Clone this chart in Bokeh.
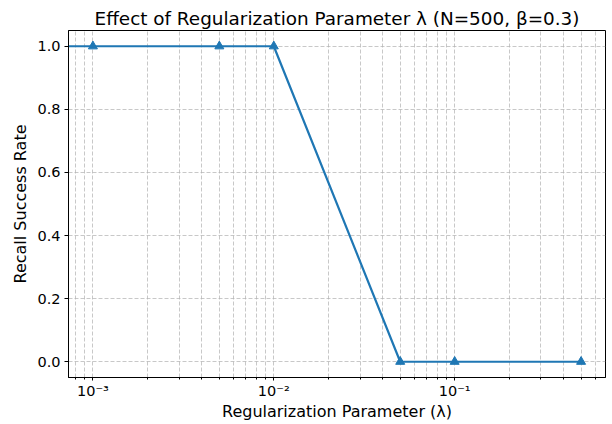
import numpy as np
from bokeh.plotting import figure
from bokeh.models import Range1d, FixedTicker, CustomJSTickFormatter, NumeralTickFormatter
from bokeh.embed import file_html
from bokeh.resources import INLINE

# data
lambdas = [0.0, 0.001, 0.005, 0.01, 0.05, 0.1, 0.5]
recall = [1.0, 1.0, 1.0, 1.0, 0.0, 0.0, 0.0]
y_ticks = [0.0, 0.2, 0.4, 0.6, 0.8, 1.0]
x_major = [1e-3, 1e-2, 1e-1]

title = "Effect of Regularization Parameter λ (N=500, β=0.3)"
xlabel = "Regularization Parameter (λ)"
ylabel = "Recall Success Rate"

lam = np.array(lambdas)
rec = np.array(recall)
pos = lam > 0
# like matplotlib's log-scale clipping of non-positive values
lam_line = np.where(pos, lam, 1e-12)

lo, hi = np.log10(lam[pos].min()), np.log10(lam[pos].max())
m = 0.05 * (hi - lo)
ylo, yhi = rec.min(), rec.max()
ym = 0.05 * (yhi - ylo)

FONT = "DejaVu Sans"
p = figure(width=612, height=424, x_axis_type="log", output_backend="svg", toolbar_location=None,
           x_range=Range1d(10 ** (lo - m), 10 ** (hi + m)), y_range=Range1d(ylo - ym, yhi + ym),
           min_border_left=68, min_border_right=7, min_border_top=30, min_border_bottom=47)

p.title.text = title
p.title.align = "center"
p.title.text_font = FONT
p.title.text_font_size = "18.4px"
p.title.text_font_style = "normal"
p.title.text_color = "black"
p.title.standoff = 3

p.outline_line_color = "black"
p.outline_line_width = 1
p.outline_line_alpha = 1

minor = [k * 10.0 ** e for e in range(-4, 1) for k in range(2, 10)]
p.xaxis.ticker = FixedTicker(ticks=x_major, minor_ticks=minor)
p.xaxis.formatter = CustomJSTickFormatter(code="""
const e = Math.round(Math.log10(tick));
const sup = {'-':'\u207b','0':'\u2070','1':'\u00b9','2':'\u00b2','3':'\u00b3','4':'\u2074','5':'\u2075','6':'\u2076','7':'\u2077','8':'\u2078','9':'\u2079'};
return '10' + String(e).split('').map(c => sup[c]).join('');
""")
p.yaxis.ticker = FixedTicker(ticks=y_ticks)
p.yaxis.formatter = NumeralTickFormatter(format="0.0")

for ax in (p.xaxis, p.yaxis):
    ax.axis_line_color = "black"
    ax.major_tick_line_color = "black"
    ax.minor_tick_line_color = "black"
    ax.major_tick_out = 4
    ax.major_tick_in = 0
    ax.minor_tick_out = 2
    ax.minor_tick_in = 0
    ax.major_label_text_font = FONT
    ax.major_label_text_font_size = "14.5px"
    ax.major_label_text_color = "black"
    ax.axis_label_text_font = FONT
    ax.axis_label_text_font_size = "16px"
    ax.axis_label_text_font_style = "normal"
    ax.axis_label_text_color = "black"
p.yaxis.minor_tick_line_color = None
p.xaxis.axis_label = xlabel
p.yaxis.axis_label = ylabel
p.xaxis.major_tick_out = 3
p.xaxis.major_label_standoff = 2
p.yaxis.major_label_standoff = 4
p.xaxis.axis_label_standoff = 0
p.yaxis.axis_label_standoff = 4

p.xgrid.grid_line_color = "#b0b0b0"
p.xgrid.grid_line_dash = "4 2"
p.xgrid.grid_line_alpha = 0.7
p.xgrid.minor_grid_line_color = "#b0b0b0"
p.xgrid.minor_grid_line_dash = "4 2"
p.xgrid.minor_grid_line_alpha = 0.7
p.ygrid.grid_line_color = "#b0b0b0"
p.ygrid.grid_line_dash = "4 2"
p.ygrid.grid_line_alpha = 0.7

p.line(lam_line, rec, line_color="#1f77b4", line_width=2.2)
p.scatter(lam[pos], rec[pos], marker="triangle", size=9, fill_color="#1f77b4", line_color="#1f77b4")

open("out.html", "w").write(file_html(p, INLINE))
